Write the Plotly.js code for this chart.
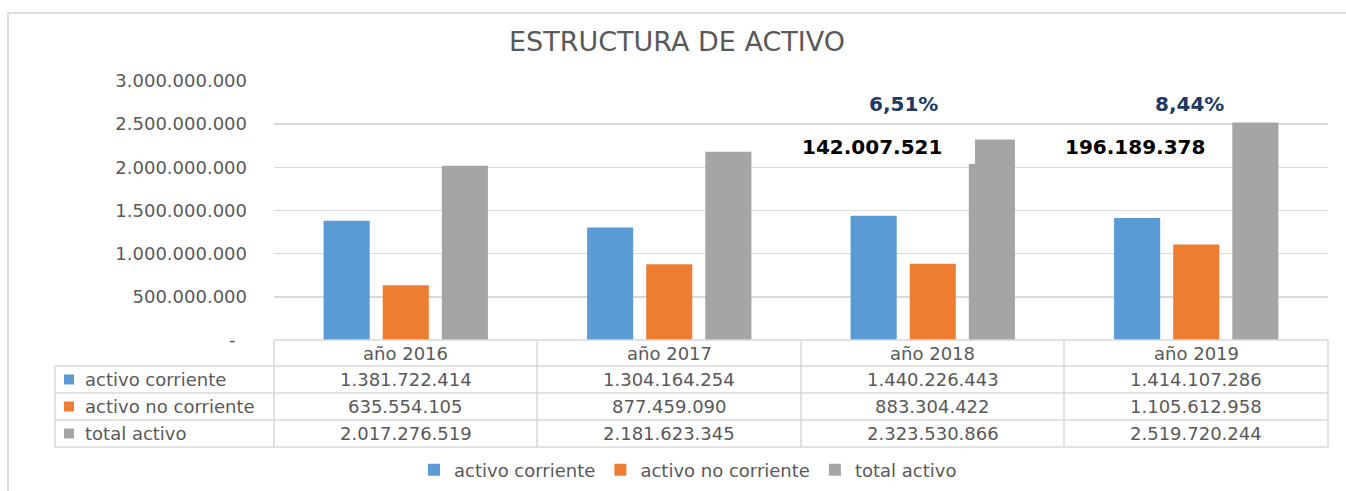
<!DOCTYPE html>
<html>
<head>
<meta charset="utf-8">
<script src="https://cdn.plot.ly/plotly-3.0.1.min.js"></script>
<style>
  html, body { margin: 0; padding: 0; background: #ffffff; }
  #chart { width: 1346px; height: 491px; }
</style>
</head>
<body>
<div id="chart"></div>
<script>
// ---------------- data ----------------
const categories = ["año 2016", "año 2017", "año 2018", "año 2019"];
const seriesNames = ["activo corriente", "activo no corriente", "total activo"];
const activoCorriente = [1381722414, 1304164254, 1440226443, 1414107286];
const activoNoCorriente = [635554105, 877459090, 883304422, 1105612958];
const totalActivo = [2017276519, 2181623345, 2323530866, 2519720244];
const variacionCategories = ["año 2018", "año 2019"];
const variacionLabels = ["142.007.521", "196.189.378"];
const porcentajeLabels = ["6,51%", "8,44%"];
const yTickVals = [0, 500000000, 1000000000, 1500000000, 2000000000, 2500000000, 3000000000];
const yTickText = ["-\u00a0\u00a0", "500.000.000", "1.000.000.000", "1.500.000.000", "2.000.000.000", "2.500.000.000", "3.000.000.000"];

// ---------------- styling ----------------
const colors = ["#5b9bd5", "#ed7d31", "#a5a5a5"];
const FONT = "DejaVu Sans, Verdana, sans-serif";
const textGrey = "#595959";
const lineGrey = "#d9d9d9";

const W = 1346, H = 491;
const L = 274, R = 1328, T = 81, B = 340;
const px2x = p => (p - L) / (R - L);
const px2y = p => (B - p) / (B - T);

const fmt = v => String(v).replace(/\B(?=(\d{3})+(?!\d))/g, ".");

const seriesValues = [activoCorriente, activoNoCorriente, totalActivo];
const traces = seriesNames.map((name, i) => ({
  type: "bar",
  name: name,
  x: categories,
  y: seriesValues[i],
  marker: { color: colors[i], line: { width: 0 } },
  hoverinfo: "skip"
}));

const shapes = [];
const annotations = [];

// outer chart border
shapes.push({ type: "rect", xref: "paper", yref: "paper",
  x0: px2x(8), x1: px2x(1352), y0: px2y(13), y1: px2y(498),
  line: { color: "#d4d4d4", width: 1.5 }, fillcolor: "rgba(0,0,0,0)", layer: "below" });

// white box covering part of the 2018 total bar (text box of the label)
shapes.push({ type: "rect", xref: "paper", yref: "paper",
  x0: px2x(785), x1: px2x(975), y0: px2y(164), y1: px2y(129),
  line: { width: 0 }, fillcolor: "#ffffff", layer: "above" });

// data table grid
const rowLines = [340, 366, 393, 420, 447];
const colLines = [274, 537, 801, 1064, 1328];
rowLines.forEach((py, k) => {
  shapes.push({ type: "line", xref: "paper", yref: "paper",
    x0: px2x(k === 0 ? 274 : 55), x1: px2x(1328), y0: px2y(py), y1: px2y(py),
    line: { color: lineGrey, width: 1.5 } });
});
colLines.forEach(px => {
  shapes.push({ type: "line", xref: "paper", yref: "paper",
    x0: px2x(px), x1: px2x(px), y0: px2y(340), y1: px2y(447),
    line: { color: lineGrey, width: 1.5 } });
});
shapes.push({ type: "line", xref: "paper", yref: "paper",
  x0: px2x(55), x1: px2x(55), y0: px2y(366), y1: px2y(447),
  line: { color: lineGrey, width: 1.5 } });

// header texts
categories.forEach(c => {
  annotations.push({ xref: "x", yref: "paper", x: c, y: px2y(353),
    text: c, showarrow: false, xanchor: "center", yanchor: "middle",
    font: { family: FONT, size: 18, color: textGrey } });
});

// row labels, keys and values
const rowCenters = [379.5, 406.5, 433.5];
seriesNames.forEach((name, i) => {
  const cy = rowCenters[i];
  shapes.push({ type: "rect", xref: "paper", yref: "paper",
    x0: px2x(64), x1: px2x(74), y0: px2y(cy + 5), y1: px2y(cy - 5),
    line: { width: 0 }, fillcolor: colors[i] });
  annotations.push({ xref: "paper", yref: "paper", x: px2x(83), y: px2y(cy),
    text: name, showarrow: false, xanchor: "left", yanchor: "middle",
    font: { family: FONT, size: 18, color: textGrey } });
  categories.forEach((c, j) => {
    annotations.push({ xref: "x", yref: "paper", x: c, y: px2y(cy),
      text: fmt(seriesValues[i][j]), showarrow: false, xanchor: "center", yanchor: "middle",
      font: { family: FONT, size: 18, color: textGrey } });
  });
});

// variation labels
const pctShift = [-29, -7];
variacionCategories.forEach((c, k) => {
  annotations.push({ xref: "x", yref: "paper", x: c, xshift: -61, y: px2y(147),
    text: "<b>" + variacionLabels[k] + "</b>", showarrow: false,
    xanchor: "center", yanchor: "middle",
    font: { family: FONT, size: 20, color: "#000000" } });
  annotations.push({ xref: "x", yref: "paper", x: c, xshift: pctShift[k], y: px2y(104),
    text: "<b>" + porcentajeLabels[k] + "</b>", showarrow: false,
    xanchor: "center", yanchor: "middle",
    font: { family: FONT, size: 20, color: "#203864" } });
});

const layout = {
  width: W, height: H,
  margin: { l: L, r: W - R, t: T, b: H - B, pad: 0, autoexpand: false },
  paper_bgcolor: "#ffffff", plot_bgcolor: "#ffffff",
  title: { text: "ESTRUCTURA DE ACTIVO", x: 677 / W, xanchor: "center",
    y: 1 - 42 / H, yanchor: "middle", yref: "container",
    font: { family: FONT, size: 27, color: textGrey } },
  barmode: "group", bargap: 0.327, bargroupgap: 0.22,
  showlegend: true,
  legend: { orientation: "h", x: px2x(688), xanchor: "center", y: px2y(470), yanchor: "middle",
    font: { family: FONT, size: 18, color: textGrey }, itemclick: false, itemdoubleclick: false },
  xaxis: { type: "category", showticklabels: false, showgrid: false, zeroline: false,
    showline: false, ticks: "", fixedrange: true },
  yaxis: { range: [0, 3000000000], tickvals: yTickVals, ticktext: yTickText,
    showgrid: true, gridcolor: lineGrey, gridwidth: 1.5, zeroline: false, showline: false,
    ticks: "", ticklabelstandoff: 26,
    tickfont: { family: FONT, size: 18, color: textGrey }, fixedrange: true },
  shapes: shapes,
  annotations: annotations,
  hovermode: false
};

Plotly.newPlot("chart", traces, layout, { displayModeBar: false, staticPlot: true });
</script>
</body>
</html>
